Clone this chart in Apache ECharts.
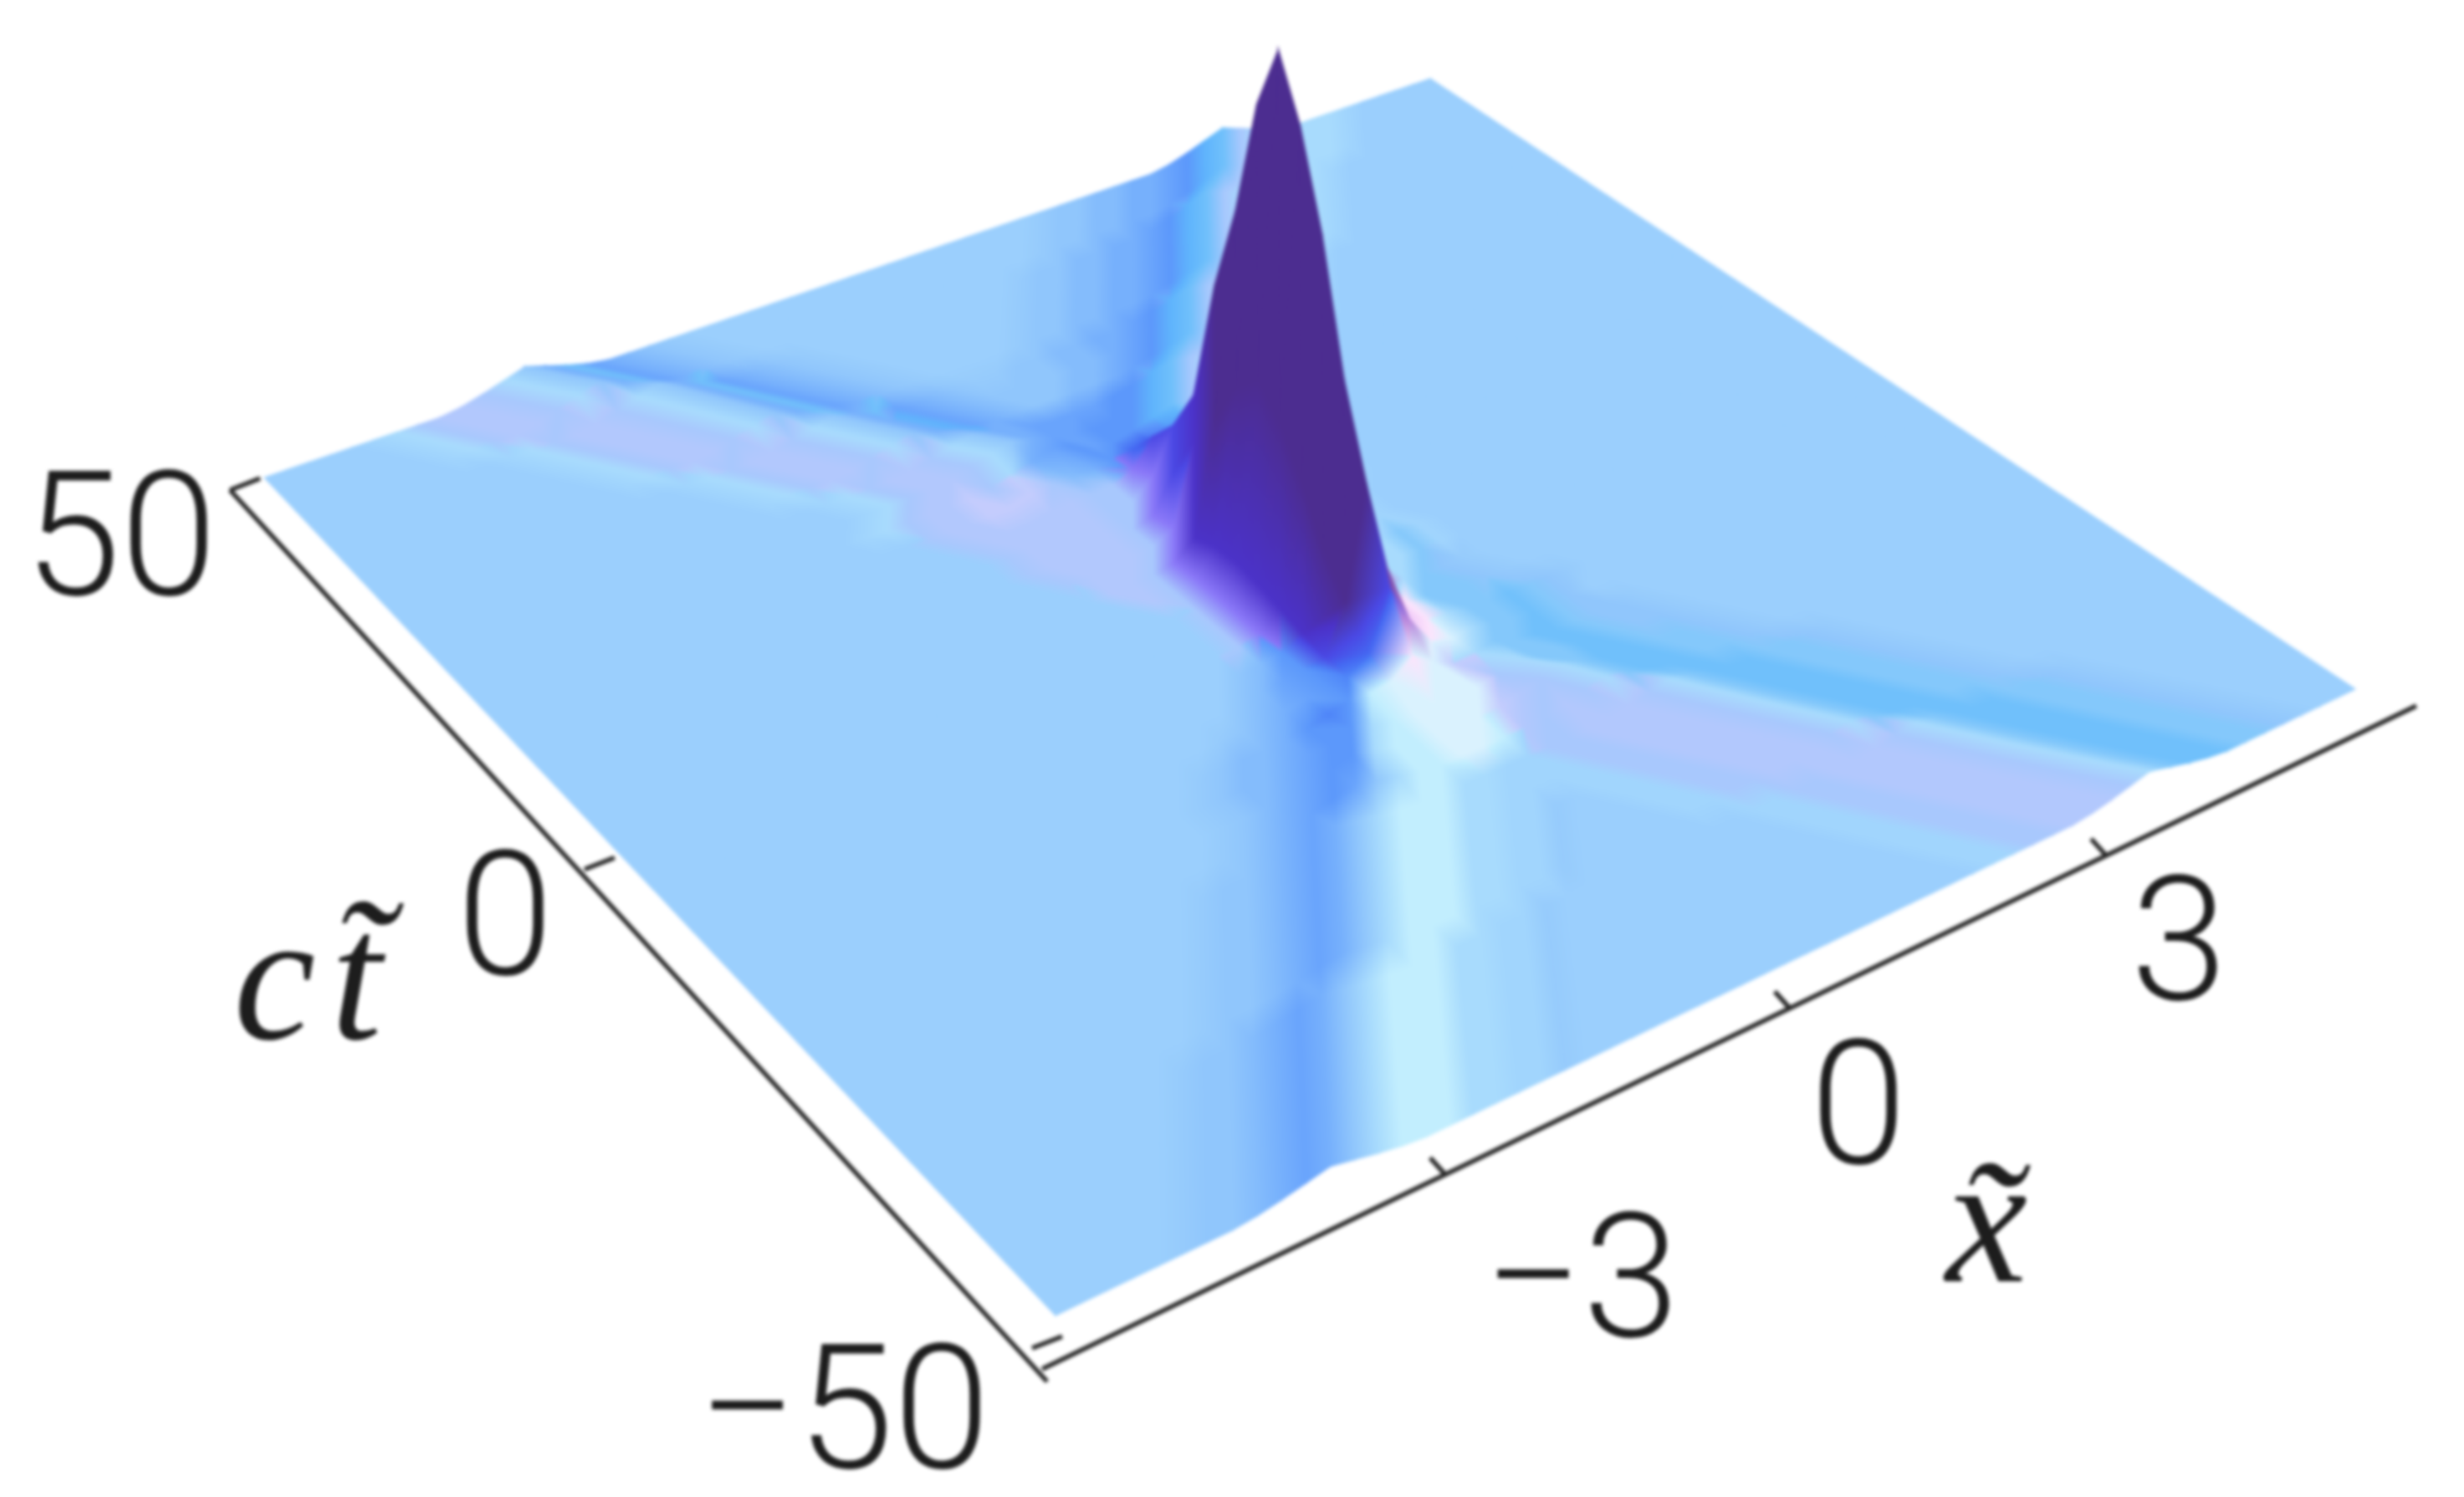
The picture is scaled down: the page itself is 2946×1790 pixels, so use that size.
<!DOCTYPE html>
<html><head><meta charset="utf-8">
<style>html,body{margin:0;background:#fff}#c{width:2946px;height:1790px;filter:blur(2.2px)}</style>
<script src="https://cdn.jsdelivr.net/npm/echarts@6/dist/echarts.min.js"></script>
</head><body><div id="c"></div>
<script>
// tick labels
const xTicks = [-3, 0, 3];
const tTicks = [50, 0, -50];
const xTickLabels = ['\u22123', '0', '3'];
const tTickLabels = ['50', '0', '\u221250'];
const axisNames = ['c\u200at\u0303', 'x\u0303'];
// surface colour letters
const shadePalette = {
 a:'#9BCFFD',b:'#90C6FC',c:'#84BCFC',d:'#76B0FC',e:'#69A4FC',f:'#5C98FB',g:'#4E84F8',h:'#4468F2',i:'#4A48E4',j:'#4B32C8',
 k:'#4C2D90',l:'#5A2A8E',m:'#7C4CA8',n:'#B888DC',o:'#A8DBFD',p:'#C2EEFE',q:'#DAF2FE',r:'#FCE4FC',s:'#C4CCFD',t:'#B2C8FD',
 u:'#A8C8FD',v:'#F0C8F8',w:'#84C8FB',x:'#70C0FB',y:'#5FB4FC',A:'#8A78F8',C:'#A1D5FD',D:'#96CBFC'};
const lowerA = 'DbbcdedbopppooCCD';
const lowerB = 'CCuutttuowxxxwwbD';
const upperB = 'CouttuobdxedcbD';
const upperA = 'DbbccddefyxuoooooC';
// one row per t value (t = -50 ... 50): [first column, letters], all else is the plain base colour
const shadeRows = [
 [[5,lowerA],[41,lowerB]],[[6,lowerA],[40,lowerB]],[[7,lowerA],[39,lowerB]],[[8,lowerA],[38,lowerB]],
 [[9,lowerA],[37,lowerB]],[[10,lowerA],[36,lowerB]],[[12,lowerA],[34,lowerB]],[[13,lowerA],[33,lowerB]],
 [[14,lowerA],[32,lowerB]],[[15,lowerA],[31,lowerB]],[[16,lowerA],[30,lowerB]],
 [[18,'Dbcdefeboppqq'],[31,'ptutuowxxxwwbD']],
 [[19,'Dbcdeffoppqqq'],[32,'stuowxxxwwbD']],
 [[19,'Dbccdeffopqqqq'],[33,'uowwxxwbbD']],
 [[20,'Dbccdfgfpqrqs'],[33,'owwxxwbbD']],
 [[22,'Dbcdefghinrqowwxwb']],
 [[24,'bcefikkmvrowwxwbD']],
 [[25,'bcfjkklnrwwwbD']],
 [[26,'uAjkklmnowbD']],
 [[26,'uAjkklmnoowC']],
 [[26,'uAjkklmnoowC']],
 [[25,'tuAjkklmnooC']],
 [[24,'ttuAjkklmnooC']],
 [[23,'utttuAjkkmnoooC']],
 [[22,'uttttuAijkmnoooC']],
 [[22,'uttttuuAikmnoooC']],
 [[21,'utttttuuAijmnoooC']],
 [[20,'uttsssu'],[27,'cdfhihgxoooC']],
 [[18,'Couttsuo'],[26,'defeffyxuoooooC']],
 [[19,'Couttuob'],[27,'deefffyxuoooooC']],
 [[18,'Couttuob'],[26,'ddeeeeffyxuoooooC']],
 [[16,'Couttuob'],[24,'dyedcbbccdefyxuoooooC']],
 [[15,'Couttuob'],[23,'dyedcbbbbccdefyxuoooooC']],
 [[14,upperB],[29,upperA]],[[12,upperB],[31,upperA]],[[11,upperB],[32,upperA]],[[10,upperB],[33,upperA]],
 [[9,upperB],[34,upperA]],[[7,upperB],[36,upperA]],[[6,upperB],[37,upperA]],[[5,upperB],[38,upperA]]
];
// low ridges: crest column per t row, crest height per t row, cross profile around the crest
const ridgeCrestA = [11,12,13,14,15,16,18,19,20,21,22,24,25,26,27,28,30,30,30,30,30,30,30,30,30,30,30,31,33,34,35,37,38,39,41,42,43,44,46,47,48];
const ridgeCrestB = [49,48,47,46,45,44,42,41,40,39,38,36,35,34,33,32,30,30,30,30,30,30,30,30,30,30,30,29,27,26,25,23,22,21,19,18,17,16,14,13,12];
const ridgeHeight = [20,18,17,16,16,16,16,16,16,17,18,20,22,24,26,0,0,0,0,0,0,0,0,0,0,0,0,0,24,22,20,20,20,20,22,24,26,28,28,26,26];
const ridgeProfile = [0.15,0.4,0.7,1,0.7,0.4,0.15];
// central spike heights, t rows 13..27, columns 25..35
const peakFirstRow = 13, peakFirstCol = 25;
const peakHeights = [
 [8,20,10,6,4,3,3,4,8,18,8],
 [5,12,18,16,20,40,22,10,12,16,8],
 [3,8,12,14,30,100,50,15,8,10,6],
 [3,6,10,14,70,200,90,24,8,6,3],
 [2,4,8,20,110,303,150,36,10,5,2],
 [2,3,8,28,170,456,220,55,14,5,2],
 [2,3,9,35,220,565,280,66,16,5,2],
 [2,3,10,40,250,634,320,75,18,5,2],
 [2,3,10,38,220,548,270,66,16,5,2],
 [2,3,8,28,160,400,200,48,12,4,2],
 [2,3,7,20,115,290,145,35,9,4,2],
 [3,4,6,14,55,139,70,18,6,3,2],
 [4,5,6,10,32,83,40,12,5,3,2],
 [5,7,8,10,20,50,25,10,5,3,2],
 [8,10,10,10,12,14,12,8,4,3,2]
];

const COLS = 61, ROWS = 41;
const shade = [], height = [];
for (let r = 0; r < ROWS; r++) {
  const s = new Array(COLS).fill('a'), z = new Array(COLS).fill(0);
  shadeRows[r].forEach(([c0, str]) => { for (let i = 0; i < str.length; i++) if (c0 + i < COLS) s[c0 + i] = str[i]; });
  [ridgeCrestA[r], ridgeCrestB[r]].forEach(cr => ridgeProfile.forEach((p, i) => {
    const c = cr - 3 + i;
    if (c >= 0 && c < COLS) z[c] = Math.max(z[c], ridgeHeight[r] * p);
  }));
  const pr = peakHeights[r - peakFirstRow];
  if (pr) pr.forEach((v, i) => { z[peakFirstCol + i] = v; });
  shade.push(s); height.push(z);
}
// projection of the (x, t) plane
const quad = [[1262,1573],[2816,824],[1710,94],[316,571]];
const H = (function () {
  const [p0,p1,p2,p3] = quad;
  const dx1=p1[0]-p2[0],dx2=p3[0]-p2[0],sx=p0[0]-p1[0]+p2[0]-p3[0];
  const dy1=p1[1]-p2[1],dy2=p3[1]-p2[1],sy=p0[1]-p1[1]+p2[1]-p3[1];
  const den=dx1*dy2-dx2*dy1, g=(sx*dy2-dx2*sy)/den, h=(dx1*sy-sx*dy1)/den;
  return {a:p1[0]-p0[0]+g*p1[0],b:p3[0]-p0[0]+h*p3[0],c:p0[0],d:p1[1]-p0[1]+g*p1[1],e:p3[1]-p0[1]+h*p3[1],f:p0[1],g,h};
})();
function project(col, row) {
  const w = col / (COLS - 1), q = row / (ROWS - 1), m = H.g * w + H.h * q + 1;
  return [(H.a * w + H.b * q + H.c) / m, (H.d * w + H.e * q + H.f) / m - height[row][col]];
}
const colourOf = (r, c) => shadePalette[shade[r][c]];
const rgbOf = {};
Object.keys(shadePalette).forEach(k => { rgbOf[shadePalette[k]] = echarts.color.parse(shadePalette[k]); });
const colourGap = (a, b) => { const p = rgbOf[a], q = rgbOf[b]; return Math.abs(p[0]-q[0]) + Math.abs(p[1]-q[1]) + Math.abs(p[2]-q[2]); };
const tone = c => { const p = rgbOf[c]; return 0.5 * p[0] + p[1] + 0.25 * p[2]; };

const cells = [];
for (let r = ROWS - 2; r >= 0; r--) for (let c = COLS - 2; c >= 0; c--) cells.push([c, r]);

// a triangle shaded along the direction in which its corner tones change
function triangle(P, C) {
  const S = C.map(tone);
  const ax = P[1][0]-P[0][0], ay = P[1][1]-P[0][1], bx = P[2][0]-P[0][0], by = P[2][1]-P[0][1];
  const det = ax * by - ay * bx, da = S[1]-S[0], db = S[2]-S[0];
  const lo = S.indexOf(Math.min(...S)), range = Math.max(...S) - S[lo];
  let fill;
  if (Math.abs(det) < 1e-3 || range < 1e-3) {
    fill = C[0];
  } else {
    const gx = (da * by - db * ay) / det, gy = (db * ax - da * bx) / det, n = gx * gx + gy * gy;
    const stops = [0,1,2].map(i => ({ offset: (S[i] - S[lo]) / range, color: C[i] })).sort((p, q) => p.offset - q.offset);
    fill = new echarts.graphic.LinearGradient(P[lo][0], P[lo][1], P[lo][0] + gx / n * range, P[lo][1] + gy / n * range, stops, true);
  }
  return { type: 'polygon', shape: { points: P }, style: { fill, stroke: fill, lineWidth: 1.2 } };
}
function renderCell(params, api) {
  const c = api.value(0), r = api.value(1);
  const A = api.coord(project(c, r)), B = api.coord(project(c + 1, r)), D = api.coord(project(c + 1, r + 1)), E = api.coord(project(c, r + 1));
  const cA = colourOf(r, c), cB = colourOf(r, c + 1), cD = colourOf(r + 1, c + 1), cE = colourOf(r + 1, c);
  const children = colourGap(cA, cD) <= colourGap(cB, cE)
    ? [triangle([A, D, E], [cA, cD, cE]), triangle([A, D, B], [cA, cD, cB])]
    : [triangle([B, E, D], [cB, cE, cD]), triangle([B, E, A], [cB, cE, cA])];
  return { type: 'group', children };
}

// axes
const tAxisEnds = { t50: [275,586], tm50: [1234,1612], k: 0.792, foot: [1252,1652] };
const xAxisEnds = { a: [1246,1637], b: [2889,844], k: 0.838, range: 6.2 };
const along = (e0, e1, w, k) => { const s = w / (w + k * (1 - w)); return [e0[0] + (e1[0] - e0[0]) * s, e0[1] + (e1[1] - e0[1]) * s]; };
const tPos = t => along(tAxisEnds.tm50, tAxisEnds.t50, (t + 50) / 100, tAxisEnds.k);
const xPos = x => along(xAxisEnds.a, xAxisEnds.b, (x + xAxisEnds.range) / (2 * xAxisEnds.range), xAxisEnds.k);
const tLabelOffset = [[-131,73],[-95,74],[-225,91]];
const xLabelOffset = [[163,142],[82,133],[87,120]];
const axisStroke = { stroke: '#262626', lineWidth: 5.5 };
const numFont = '300 208px Roboto, "Liberation Sans", sans-serif';
const nameFont = 'italic 220px "Liberation Serif", serif';

function renderAxes(params, api) {
  const ch = [];
  const seg = (p, q) => ch.push({ type: 'line', shape: { x1: p[0], y1: p[1], x2: q[0], y2: q[1] }, style: axisStroke });
  const txt = (s, p, font) => ch.push({ type: 'text', style: { text: s, x: p[0], y: p[1], font, fill: '#1d1d1d', align: 'center', verticalAlign: 'middle' } });
  seg(api.coord(tPos(50)), api.coord(tAxisEnds.foot));
  seg(api.coord(xPos(-xAxisEnds.range)), api.coord(xPos(xAxisEnds.range)));
  tTicks.forEach((t, i) => {
    const p = api.coord(tPos(t));
    seg(p, [p[0] + 36, p[1] - 14]);
    txt(tTickLabels[i], [p[0] + tLabelOffset[i][0], p[1] + tLabelOffset[i][1]], numFont);
  });
  xTicks.forEach((x, i) => {
    const p = api.coord(xPos(x));
    seg(p, [p[0] - 18, p[1] - 20]);
    txt(xTickLabels[i], [p[0] + xLabelOffset[i][0], p[1] + xLabelOffset[i][1]], numFont);
  });
  txt(axisNames[0], api.coord([368, 1184]), nameFont);
  txt(axisNames[1], api.coord([2375, 1474]), nameFont);
  return { type: 'group', children: ch };
}

const chart = echarts.init(document.getElementById('c'), null, { width: 2946, height: 1790 });
chart.setOption({
  animation: false,
  backgroundColor: '#fff',
  grid: { left: 0, right: 0, top: 0, bottom: 0 },
  xAxis: { type: 'value', min: 0, max: 2946, show: false },
  yAxis: { type: 'value', min: 0, max: 1790, inverse: true, show: false },
  series: [
    { type: 'custom', coordinateSystem: 'cartesian2d', data: cells, renderItem: renderCell, progressive: 0, silent: true, clip: false },
    { type: 'custom', coordinateSystem: 'cartesian2d', data: [[0, 0]], renderItem: renderAxes, silent: true, clip: false }
  ]
});
</script></body></html>
